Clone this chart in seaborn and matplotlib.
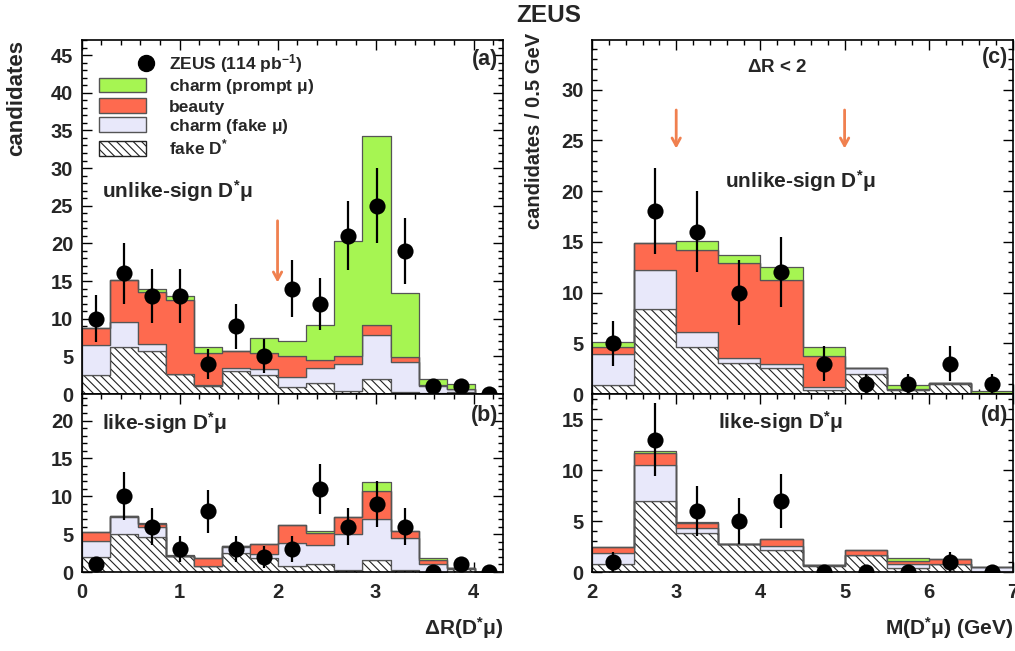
import numpy as np
import pandas as pd
import matplotlib
matplotlib.use("Agg")
import matplotlib.pyplot as plt
from matplotlib.ticker import MultipleLocator
from matplotlib.patches import Patch
from matplotlib.lines import Line2D
from matplotlib.legend_handler import HandlerLine2D
import seaborn as sns

# ---------------------------------------------------------------- data
components = ["prompt", "beauty", "fakemu", "fakeD"]

# Delta R(D* mu), 15 bins between 0 and 4.3
dr_unlike_prompt = [0.0, 0.0, 0.4, 0.55, 0.9, 0.05, 1.9, 2.0, 4.7, 15.35, 25.0, 8.55, 0.8, 0.6, 0.0]
dr_unlike_beauty = [2.3, 5.7, 6.9, 9.8, 4.2, 2.3, 2.2, 2.7, 1.05, 1.0, 1.4, 0.6, 0.05, 0.05, 0.0]
dr_unlike_fakemu = [4.0, 3.3, 1.0, 0.1, 0.15, 0.3, 0.8, 1.4, 2.05, 3.6, 5.8, 4.1, 1.0, 0.35, 0.0]
dr_unlike_fakeD = [2.5, 6.2, 5.7, 2.6, 1.05, 3.1, 2.5, 0.9, 1.4, 0.4, 2.0, 0.2, 0.1, 0.3, 0.0]
dr_unlike_data = [10, 16, 13, 13, 4, 9, 5, 14, 12, 21, 25, 19, 1, 1, 0]

dr_like_prompt = [0.0, 0.0, 0.1, 0.2, 0.1, 0.0, 0.05, 0.0, 0.3, 0.0, 1.2, 0.0, 0.25, 0.0, 0.0]
dr_like_beauty = [1.25, 0.25, 0.4, 0.0, 1.05, 0.15, 1.3, 2.35, 1.5, 2.3, 3.7, 0.9, 0.5, 0.0, 0.0]
dr_like_fakemu = [2.05, 2.2, 1.4, 0.0, 0.0, 0.8, 0.5, 3.1, 2.5, 4.8, 5.45, 4.3, 1.1, 0.1, 0.0]
dr_like_fakeD = [2.0, 5.0, 4.6, 2.1, 0.75, 2.5, 1.9, 0.75, 1.1, 0.2, 1.55, 0.2, 0.0, 0.4, 0.0]
dr_like_data = [1, 10, 6, 3, 8, 3, 2, 3, 11, 6, 9, 6, 0, 1, 0]

# M(D* mu), 0.5 GeV bins between 2 and 7 GeV
m_unlike_prompt = [0.43, 0.0, 0.9, 0.7, 1.25, 0.97, 0.0, 0.4, 0.0, 0.28]
m_unlike_beauty = [0.77, 2.7, 8.1, 9.46, 8.29, 3.04, 0.0, 0.05, 0.0, 0.0]
m_unlike_fakemu = [3.0, 3.85, 1.43, 0.4, 0.36, 0.26, 0.6, 0.05, 0.05, 0.05]
m_unlike_fakeD = [0.9, 8.35, 4.67, 3.1, 2.6, 0.4, 2.0, 0.4, 1.0, 0.0]
m_unlike_data = [5, 18, 16, 10, 12, 3, 1, 1, 3, 1]

m_like_prompt = [0.0, 0.15, 0.17, 0.0, 0.0, 0.0, 0.0, 0.26, 0.0, 0.0]
m_like_beauty = [0.6, 1.15, 0.42, 0.0, 0.73, 0.0, 0.49, 0.33, 0.45, 0.0]
m_like_fakemu = [1.1, 3.6, 0.49, 0.03, 0.39, 0.1, 0.0, 0.39, 0.0, 0.45]
m_like_fakeD = [0.8, 6.95, 3.87, 2.72, 2.16, 0.6, 1.67, 0.36, 0.8, 0.0]
m_like_data = [1, 13, 6, 5, 7, 0, 0, 0, 1, 0]

dr_edges = np.linspace(0.0, 4.3, 16)
m_edges = np.linspace(2.0, 7.0, 11)

# ---------------------------------------------------------------- style
sns.set_style("ticks")
plt.rcParams["font.family"] = ["Liberation Sans", "DejaVu Sans"]
plt.rcParams["font.weight"] = "bold"
plt.rcParams["mathtext.fontset"] = "custom"
plt.rcParams["mathtext.rm"] = "Liberation Sans"
plt.rcParams["mathtext.it"] = "Liberation Sans:bold"
plt.rcParams["mathtext.bf"] = "Liberation Sans:bold"
plt.rcParams["mathtext.default"] = "bf"
plt.rcParams["hatch.linewidth"] = 0.8

colors = {
    "prompt": "#a6f552",
    "beauty": "#fe6a4f",
    "fakemu": "#e8e8fa",
    "fakeD": "#ffffff",
}
HATCH = "\\\\\\\\"
EDGE = "#555555"
ARROW = "#f0804f"
MU = r"$\mathrm{\mu}$"
DSTAR_MU = r"D$^{*}\mathrm{\mu}$"

fig = plt.figure(figsize=(10.15, 6.51), dpi=100)
W, H = 1015.0, 651.0


def axes_px(left, top, right, bottom):
    return fig.add_axes([left / W, 1 - bottom / H, (right - left) / W, (bottom - top) / H])


ax_a = axes_px(81.5, 40, 503, 394)
ax_b = axes_px(81.5, 394, 503, 572)
ax_c = axes_px(592, 40, 1013, 394)
ax_d = axes_px(592, 394, 1013, 572)


def draw_panel(ax, edges, layers, data):
    centers = 0.5 * (edges[:-1] + edges[1:])
    frames = []
    for comp, vals in zip(components, layers):
        frames.append(pd.DataFrame({"x": centers, "w": vals, "comp": comp}))
    df = pd.concat(frames, ignore_index=True)
    sns.histplot(
        data=df, x="x", weights="w", hue="comp", hue_order=components,
        palette=colors, bins=edges.tolist(), multiple="stack", element="step",
        fill=True, alpha=1, edgecolor=EDGE, linewidth=0.9, legend=False, ax=ax,
    )
    for coll in ax.collections:
        fc = coll.get_facecolor()
        if len(fc) and np.allclose(fc[0][:3], 1.0):
            coll.set_hatch(HATCH)
            coll.set_edgecolor("#222222")
    data = np.asarray(data, dtype=float)
    ax.errorbar(centers, data, yerr=np.sqrt(data), fmt="none", ecolor="black",
                elinewidth=1.6, capsize=0, zorder=4)
    sns.scatterplot(x=centers, y=data, color="black", s=135, linewidth=0,
                    zorder=5, ax=ax, legend=False)
    ax.set_xlim(edges[0], edges[-1])
    ax.set_xlabel("")
    ax.set_ylabel("")


draw_panel(ax_a, dr_edges,
           [dr_unlike_prompt, dr_unlike_beauty, dr_unlike_fakemu, dr_unlike_fakeD],
           dr_unlike_data)
draw_panel(ax_b, dr_edges,
           [dr_like_prompt, dr_like_beauty, dr_like_fakemu, dr_like_fakeD],
           dr_like_data)
draw_panel(ax_c, m_edges,
           [m_unlike_prompt, m_unlike_beauty, m_unlike_fakemu, m_unlike_fakeD],
           m_unlike_data)
draw_panel(ax_d, m_edges,
           [m_like_prompt, m_like_beauty, m_like_fakemu, m_like_fakeD],
           m_like_data)

ax_a.set_ylim(0, 47)
ax_b.set_ylim(0, 23.5)
ax_c.set_ylim(0, 34.9)
ax_d.set_ylim(0, 17.5)

for ax in (ax_a, ax_b, ax_c, ax_d):
    ax.xaxis.set_major_locator(MultipleLocator(1))
    ax.xaxis.set_minor_locator(MultipleLocator(0.2))
    ax.yaxis.set_major_locator(MultipleLocator(5))
    ax.yaxis.set_minor_locator(MultipleLocator(1))
    ax.tick_params(which="both", direction="in", top=True, right=True,
                   width=1.0, labelsize=14.5, color="black")
    ax.tick_params(which="major", length=7)
    ax.tick_params(which="minor", length=3.5)
    ax.tick_params(axis="y", pad=6)
    ax.tick_params(axis="x", pad=8)
    for sp in ax.spines.values():
        sp.set_visible(True)
        sp.set_linewidth(1.2)
        sp.set_color("black")
    ax.set_facecolor("white")

ax_a.tick_params(labelbottom=False)
ax_c.tick_params(labelbottom=False)

# arrows marking the selection cuts
ax_a.annotate("", xy=(2.0, 14.8), xytext=(2.0, 23.0),
              arrowprops=dict(arrowstyle="->,head_length=0.55,head_width=0.3",
                              color=ARROW, lw=2, shrinkA=0, shrinkB=0), zorder=6)
for xc in (3.0, 5.0):
    ax_c.annotate("", xy=(xc, 24.2), xytext=(xc, 28.0),
                  arrowprops=dict(arrowstyle="->,head_length=0.55,head_width=0.3",
                                  color=ARROW, lw=2, shrinkA=0, shrinkB=0), zorder=6)

# panel texts
ax_a.text(0.21, 27.0, "unlike-sign " + DSTAR_MU, fontsize=15, va="center", ha="left")
ax_b.text(0.21, 19.7, "like-sign " + DSTAR_MU, fontsize=15, va="center", ha="left")
ax_c.text(4.47, 21.0, "unlike-sign " + DSTAR_MU, fontsize=15, va="center", ha="center")
ax_c.text(4.2, 32.2, r"$\mathbf{\Delta}$R < 2", fontsize=13.5, va="center", ha="center")
ax_d.text(3.5, 14.7, "like-sign " + DSTAR_MU, fontsize=15, va="center", ha="left")

for ax, lab, ypx in ((ax_a, "(a)", 60), (ax_b, "(b)", 415), (ax_c, "(c)", 58), (ax_d, "(d)", 415)):
    pos = ax.get_position()
    fig.text(pos.x1 - 5 / W, 1 - ypx / H, lab, fontsize=15.5, ha="right", va="center")


class RightMarkerHandler(HandlerLine2D):
    """Legend handler that puts the single data marker at the right end of the key."""

    def get_xdata(self, legend, xdescent, ydescent, width, height, fontsize):
        # the single marker sits at the midpoint of the key line,
        # so stretch the (invisible) line to twice the key width
        xdata = np.array([-xdescent, -xdescent + 2 * width])
        return xdata, xdata


# legend
marker_handle = Line2D([], [], marker="o", color="black", linestyle="none", markersize=11.5)
handles = [
    marker_handle,
    Patch(facecolor=colors["prompt"], edgecolor=EDGE, linewidth=1),
    Patch(facecolor=colors["beauty"], edgecolor=EDGE, linewidth=1),
    Patch(facecolor=colors["fakemu"], edgecolor=EDGE, linewidth=1),
    Patch(facecolor="white", edgecolor="#222222", hatch=HATCH, linewidth=1),
]
labels = [
    r"ZEUS (114 pb$^{-1}$)",
    "charm (prompt " + MU + ")",
    "beauty",
    "charm (fake " + MU + ")",
    r"fake D$^{*}$",
]
ax_a.legend(handles, labels, loc="upper left", bbox_to_anchor=(0.025, 0.985),
            frameon=False, fontsize=12.5, handlelength=2.7, handleheight=0.9,
            labelspacing=0.12, handletextpad=1.35, borderaxespad=0.0,
            handler_map={marker_handle: RightMarkerHandler(numpoints=1)})

# titles and axis labels
fig.text(549 / W, 1 - 15 / H, "ZEUS", fontsize=17.5, ha="center", va="center")
fig.text(17 / W, 1 - 40 / H, "candidates", fontsize=16, rotation=90, ha="center", va="top")
fig.text(534 / W, 1 - 33 / H, "candidates / 0.5 GeV", fontsize=14.5, rotation=90,
         ha="center", va="top")
fig.text(503 / W, 1 - 628 / H, r"$\mathbf{\Delta}$R(" + DSTAR_MU + ")", fontsize=15,
         ha="right", va="center")
fig.text(1013 / W, 1 - 628 / H, "M(" + DSTAR_MU + ") (GeV)", fontsize=15,
         ha="right", va="center")

fig.savefig("out.png", dpi=100)
